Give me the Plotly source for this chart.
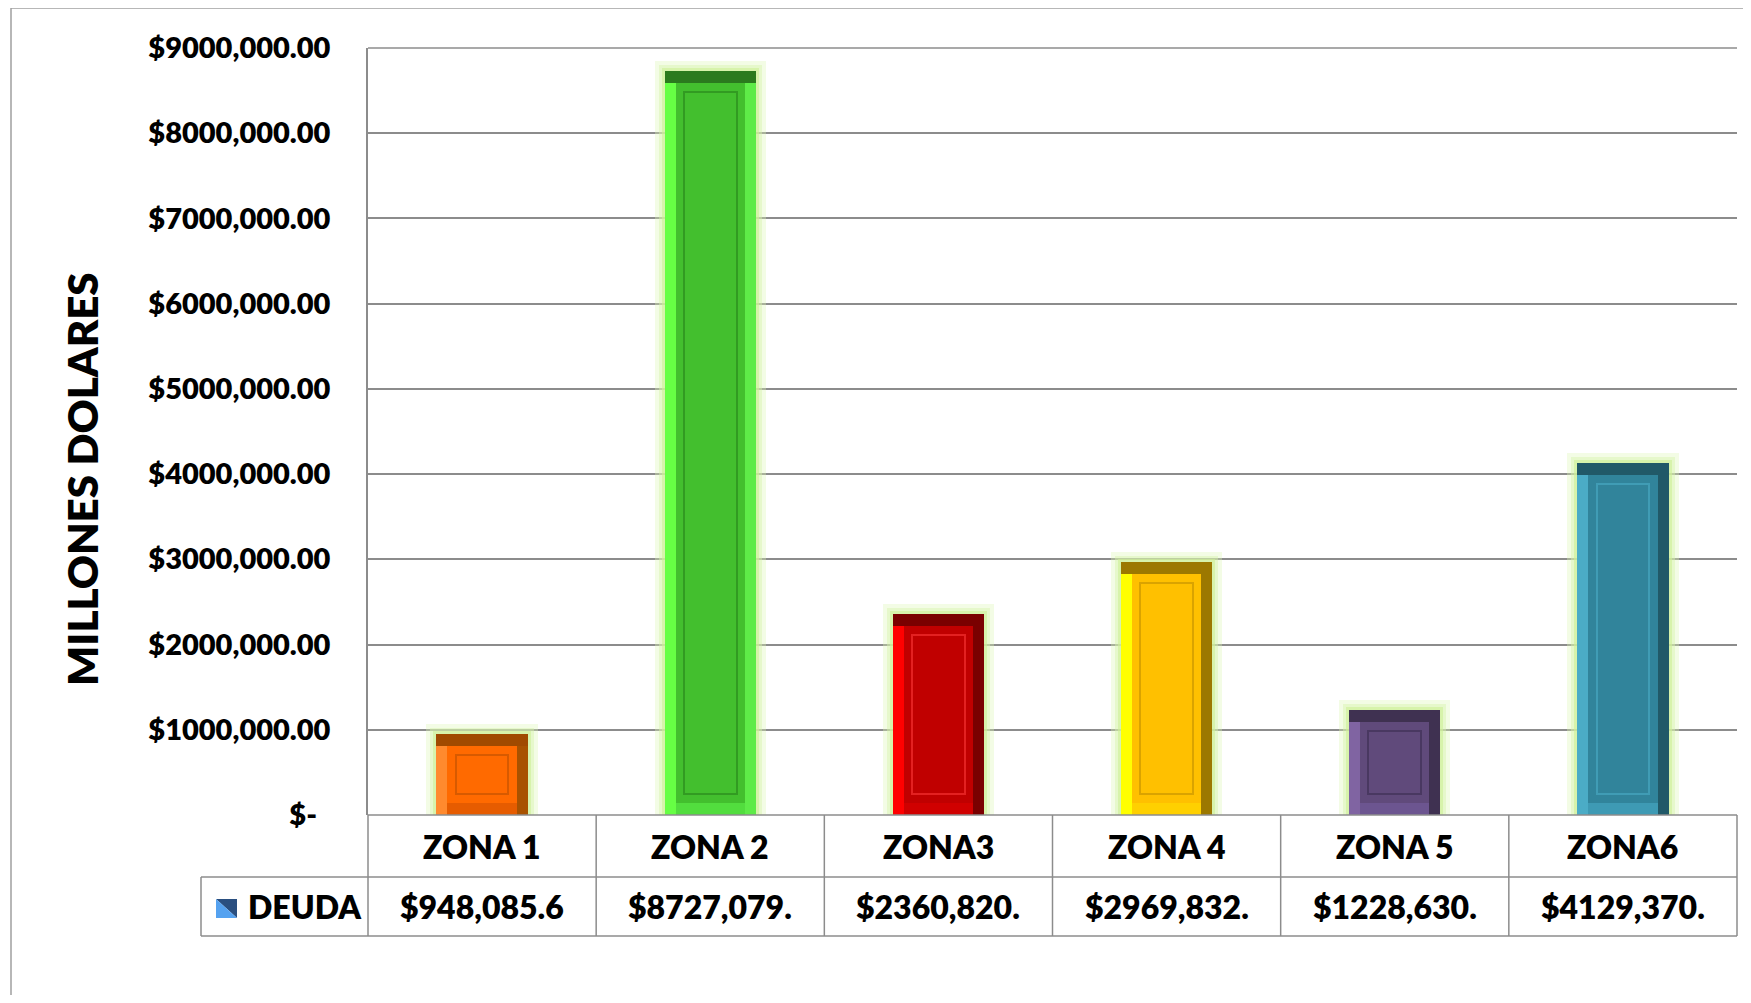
import plotly.graph_objects as go

# ---------------- data ----------------
categories = ["ZONA 1", "ZONA 2", "ZONA3", "ZONA 4", "ZONA 5", "ZONA6"]
deuda = [948085.6, 8727079, 2360820, 2969832, 1228630, 4129370]
deuda_labels = ["$948,085.6", "$8727,079.", "$2360,820.", "$2969,832.", "$1228,630.", "$4129,370."]
series_name = "DEUDA"
y_title = "MILLONES DOLARES"
tick_vals = [0, 1000000, 2000000, 3000000, 4000000, 5000000, 6000000, 7000000, 8000000, 9000000]
tick_text = ["$-\u00a0\u00a0", "$1000,000.00", "$2000,000.00", "$3000,000.00", "$4000,000.00",
             "$5000,000.00", "$6000,000.00", "$7000,000.00", "$8000,000.00", "$9000,000.00"]

# ---------------- styles ----------------
face_colors = ["#FF6A00", "#43BF2E", "#C00000", "#FFC000", "#604A7B", "#31849B"]
top_colors = ["#A04A00", "#2B7A1E", "#7A0000", "#9C7800", "#3F3151", "#215968"]
right_colors = ["#A85200", "#5EEB48", "#7A0000", "#9C7800", "#3F3151", "#215968"]
left_colors = ["#FF8A2E", "#66FF44", "#FF0000", "#FFFF00", "#8064A2", "#4BACC6"]
bottom_colors = ["#E65C00", "#52DD3E", "#D00000", "#FFD000", "#6C5590", "#3E9AB4"]
inner_line_colors = ["rgba(140,60,0,0.35)", "rgba(30,110,20,0.45)", "rgba(255,60,60,0.55)",
                     "rgba(150,110,0,0.35)", "rgba(40,30,60,0.4)", "rgba(75,172,198,0.6)"]

OFF = 8                      # page body margin
W, H = 1751 - 2 * OFF, 1003 - 2 * OFF
# layout in screen pixels (relative to window), converted to figure pixels
PL, PR, PT, PB = 368, 1737, 48, 815
L, T = PL - OFF, PT - OFF
R, B = W - (PR - OFF), H - (PB - OFF)
plot_w = PR - PL
plot_h = PB - PT
ymax = 9000000
grid_col = "#8C8C8C"
FONT = "Lato"
WEIGHT = 800

px_x = len(categories) / plot_w      # data units per px (x)
px_y = ymax / plot_h                 # data units per px (y)

bw = 0.40
bev_x = 11 * px_x
bev_y = 12 * px_y

def paper_x(p):
    return (p - PL) / plot_w

def paper_y(p):
    return (PB - p) / plot_h

xs = list(range(len(categories)))
fig = go.Figure()

# soft glow
for extra, col in [(10, "rgba(220,245,180,0.35)"), (6, "rgba(215,245,170,0.45)"), (3, "rgba(205,240,150,0.6)")]:
    fig.add_trace(go.Bar(x=xs, y=[v + extra * px_y for v in deuda], width=bw + 2 * extra * px_x,
                         marker=dict(color=col, line=dict(width=0)), hoverinfo="skip", showlegend=False))

# body (top bevel colour)
fig.add_trace(go.Bar(x=xs, y=deuda, width=bw, marker=dict(color=top_colors, line=dict(width=0)),
                     name=series_name, showlegend=False))
# right bevel
fig.add_trace(go.Bar(x=xs, y=[v - bev_y for v in deuda], base=0, width=bev_x, offset=bw / 2 - bev_x,
                     marker=dict(color=right_colors, line=dict(width=0)), hoverinfo="skip", showlegend=False))
# left bevel
fig.add_trace(go.Bar(x=xs, y=[v - bev_y for v in deuda], base=0, width=bev_x, offset=-bw / 2,
                     marker=dict(color=left_colors, line=dict(width=0)), hoverinfo="skip", showlegend=False))
# bottom bevel
fig.add_trace(go.Bar(x=xs, y=[bev_y] * len(deuda), base=0, width=bw - 2 * bev_x, offset=-bw / 2 + bev_x,
                     marker=dict(color=bottom_colors, line=dict(width=0)), hoverinfo="skip", showlegend=False))
# face
fig.add_trace(go.Bar(x=xs, y=[v - 2 * bev_y for v in deuda], base=bev_y, width=bw - 2 * bev_x,
                     offset=-bw / 2 + bev_x,
                     marker=dict(color=face_colors, line=dict(width=0)), hoverinfo="skip", showlegend=False))
# inner line
fig.add_trace(go.Bar(x=xs, y=[v - 3.5 * bev_y for v in deuda], base=1.75 * bev_y, width=bw - 3.5 * bev_x,
                     offset=-bw / 2 + 1.75 * bev_x,
                     marker=dict(color="rgba(0,0,0,0)", line=dict(width=2, color=inner_line_colors)),
                     hoverinfo="skip", showlegend=False))

# ---------------- table (data table under the chart) ----------------
row1_top, row1_bot, row2_bot = PB, 877, 936
leg_left = 201
shapes = []
line = dict(color=grid_col, width=1.5)
# top gridline (9M) - ensure visible
shapes.append(dict(type="line", xref="paper", yref="paper", x0=0, x1=1, y0=1, y1=1, line=line))
shapes.append(dict(type="line", xref="paper", yref="paper", x0=0, x1=1,
                   y0=paper_y(row1_top), y1=paper_y(row1_top), line=line))
for yy in (row1_bot, row2_bot):
    shapes.append(dict(type="line", xref="paper", yref="paper", x0=paper_x(leg_left), x1=1,
                       y0=paper_y(yy), y1=paper_y(yy), line=line))
for i in range(len(categories) + 1):
    shapes.append(dict(type="line", xref="paper", yref="paper", x0=i / len(categories), x1=i / len(categories),
                       y0=paper_y(row2_bot), y1=paper_y(row1_top), line=line))
shapes.append(dict(type="line", xref="paper", yref="paper", x0=paper_x(leg_left), x1=paper_x(leg_left),
                   y0=paper_y(row2_bot), y1=paper_y(row1_bot), line=line))
# outer chart border
shapes.append(dict(type="rect", xref="paper", yref="paper", x0=paper_x(11), x1=paper_x(1800),
                   y0=paper_y(1050), y1=paper_y(8), line=dict(color="#A0A0A0", width=1.5)))
# legend key
kx0, kx1, ky0, ky1 = paper_x(216), paper_x(237), paper_y(899), paper_y(918)
shapes.append(dict(type="path", xref="paper", yref="paper",
                   path=f"M {kx0},{ky0} L {kx1},{ky0} L {kx1},{ky1} Z",
                   fillcolor="#2A4F80", line=dict(width=0)))
shapes.append(dict(type="path", xref="paper", yref="paper",
                   path=f"M {kx0},{ky0} L {kx1},{ky1} L {kx0},{ky1} Z",
                   fillcolor="#55A2F0", line=dict(width=0)))

annotations = []
cell_font = dict(family=FONT, size=32, color="black", weight=WEIGHT)
n = len(categories)
for i, (c, v) in enumerate(zip(categories, deuda_labels)):
    annotations.append(dict(x=(i + 0.5) / n, y=paper_y((row1_top + row1_bot) / 2), xref="paper", yref="paper",
                            text=c, showarrow=False, font=cell_font, xanchor="center", yanchor="middle"))
    annotations.append(dict(x=(i + 0.5) / n, y=paper_y((row1_bot + row2_bot) / 2), xref="paper", yref="paper",
                            text=v, showarrow=False, font=cell_font, xanchor="center", yanchor="middle"))
annotations.append(dict(x=paper_x(246), y=paper_y((row1_bot + row2_bot) / 2), xref="paper", yref="paper",
                        text=series_name, showarrow=False, font=cell_font, xanchor="left", yanchor="middle"))
annotations.append(dict(x=paper_x(82), y=paper_y(479), xref="paper", yref="paper", text=y_title,
                        textangle=-90, showarrow=False,
                        font=dict(family=FONT, size=42, color="black", weight=WEIGHT),
                        xanchor="center", yanchor="middle"))

fig.update_layout(
    width=W, height=H,
    margin=dict(l=L, r=R, t=T, b=B, autoexpand=False),
    paper_bgcolor="white", plot_bgcolor="white",
    barmode="overlay", bargap=0,
    showlegend=False,
    shapes=shapes, annotations=annotations,
    xaxis=dict(range=[-0.5, n - 0.5], showticklabels=False, showgrid=False, zeroline=False,
               showline=False, ticks="", fixedrange=True),
    yaxis=dict(range=[0, ymax], tickvals=tick_vals, ticktext=tick_text,
               tickfont=dict(family=FONT, size=29, color="black", weight=WEIGHT),
               showgrid=True, gridcolor=grid_col, gridwidth=1.5, zeroline=False,
               showline=True, linecolor=grid_col, linewidth=1.5, ticks="",
               ticklabelstandoff=30, fixedrange=True),
)

fig.write_html("out.html")
